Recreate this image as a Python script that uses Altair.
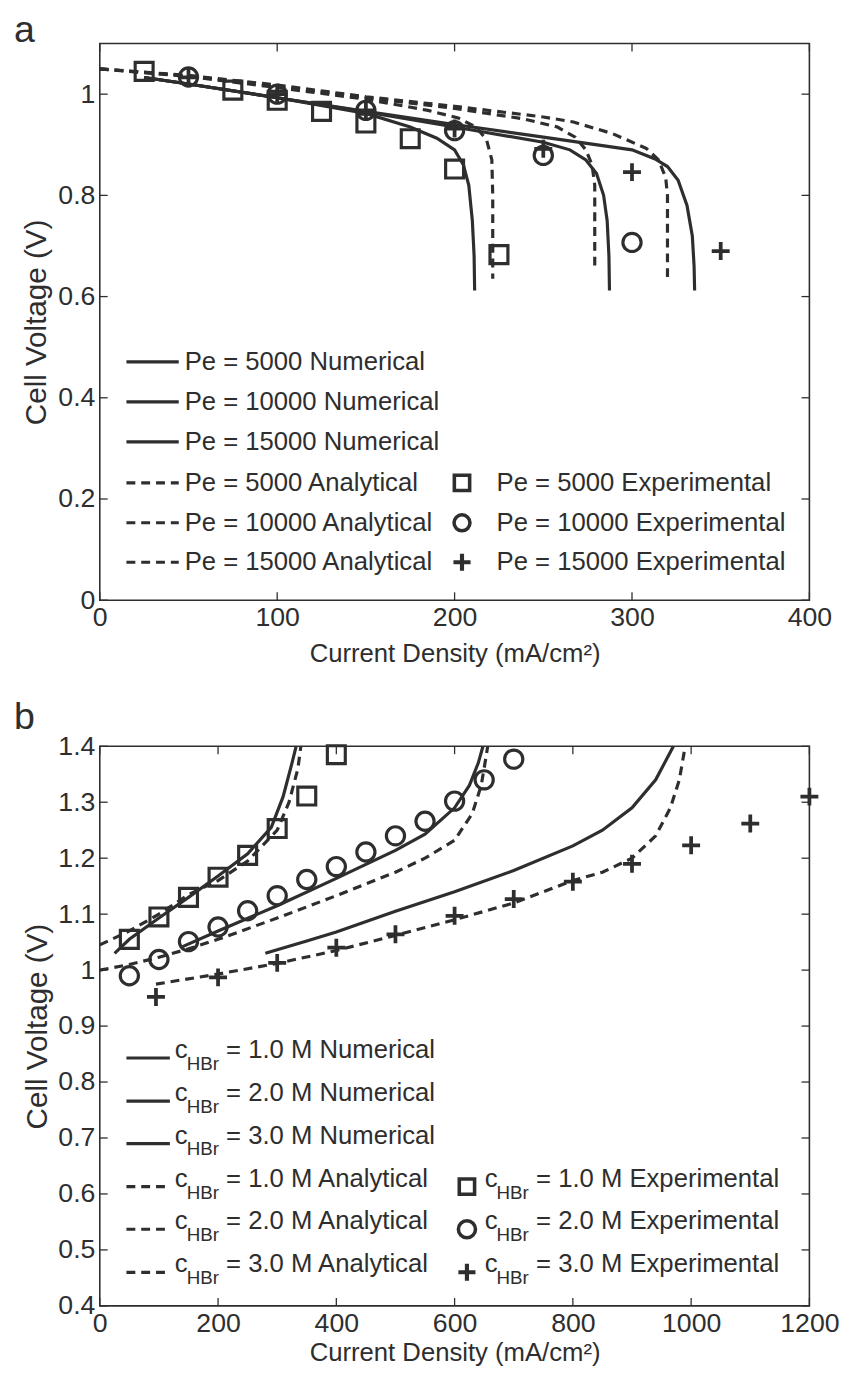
import altair as alt
import pandas as pd

FONT = "Liberation Sans, Arial, Helvetica, sans-serif"
INK = "#2e2e2e"

# ---------------- Panel a : Pe study ----------------
a_x_ticks = [0, 100, 200, 300, 400]
a_y_ticks = [0, 0.2, 0.4, 0.6, 0.8, 1.0]

a_num5000_x = [25, 50, 100, 150, 175, 190, 200, 205, 208, 210, 211, 211.3]
a_num5000_y = [1.033, 1.02, 0.993, 0.962, 0.935, 0.913, 0.89, 0.86, 0.82, 0.75, 0.68, 0.612]
a_num10000_x = [25, 50, 100, 150, 200, 250, 265, 274, 280, 284, 286, 287, 287.3]
a_num10000_y = [1.033, 1.02, 0.993, 0.965, 0.935, 0.905, 0.89, 0.87, 0.843, 0.8, 0.75, 0.68, 0.612]
a_num15000_x = [25, 50, 100, 150, 200, 250, 300, 313, 320, 326, 331, 334, 335, 335.3]
a_num15000_y = [1.033, 1.02, 0.993, 0.966, 0.94, 0.915, 0.89, 0.872, 0.857, 0.83, 0.78, 0.72, 0.66, 0.612]

a_ana5000_x = [0, 50, 100, 150, 185, 202, 212, 218, 221, 221.5, 221.5]
a_ana5000_y = [1.05, 1.035, 1.013, 0.99, 0.968, 0.953, 0.935, 0.91, 0.87, 0.8, 0.635]
a_ana10000_x = [0, 50, 100, 150, 200, 239, 258, 268, 274, 277.5, 279, 279]
a_ana10000_y = [1.05, 1.036, 1.016, 0.993, 0.972, 0.951, 0.935, 0.915, 0.89, 0.86, 0.82, 0.65]
a_ana15000_x = [0, 50, 100, 150, 200, 250, 267, 289, 308, 315, 319, 320, 320]
a_ana15000_y = [1.05, 1.037, 1.018, 0.995, 0.976, 0.955, 0.945, 0.922, 0.893, 0.87, 0.835, 0.8, 0.635]

a_exp5000_x = [25, 75, 100, 125, 150, 175, 200, 225]
a_exp5000_y = [1.045, 1.008, 0.988, 0.966, 0.943, 0.912, 0.852, 0.683]
a_exp10000_x = [50, 100, 150, 200, 250, 300]
a_exp10000_y = [1.034, 1.0, 0.968, 0.928, 0.879, 0.707]
a_exp15000_x = [50, 100, 150, 200, 250, 300, 350]
a_exp15000_y = [1.033, 1.0, 0.968, 0.932, 0.892, 0.846, 0.69]

a_line_labels = ["Pe = 5000 Numerical", "Pe = 10000 Numerical", "Pe = 15000 Numerical",
                 "Pe = 5000 Analytical", "Pe = 10000 Analytical", "Pe = 15000 Analytical"]
a_marker_labels = ["Pe = 5000 Experimental", "Pe = 10000 Experimental", "Pe = 15000 Experimental"]
a_legend_rows = [0.471, 0.392, 0.313, 0.232, 0.153, 0.075]

# ---------------- Panel b : HBr concentration study ----------------
b_x_ticks = [0, 200, 400, 600, 800, 1000, 1200]
b_y_ticks = [0.4, 0.5, 0.6, 0.7, 0.8, 0.9, 1.0, 1.1, 1.2, 1.3, 1.4]

b_num1_x = [25, 50, 100, 150, 200, 250, 290, 310, 325, 332]
b_num1_y = [1.03, 1.055, 1.093, 1.13, 1.168, 1.208, 1.255, 1.31, 1.37, 1.4]
b_num2_x = [140, 200, 300, 400, 500, 550, 600, 625, 640, 648]
b_num2_y = [1.042, 1.07, 1.115, 1.164, 1.214, 1.243, 1.29, 1.33, 1.37, 1.4]
b_num3_x = [280, 350, 400, 500, 600, 700, 800, 850, 900, 940, 970]
b_num3_y = [1.03, 1.052, 1.068, 1.105, 1.14, 1.178, 1.222, 1.25, 1.29, 1.34, 1.4]

b_ana1_x = [0, 50, 100, 150, 200, 250, 300, 320, 335, 340]
b_ana1_y = [1.045, 1.07, 1.1, 1.135, 1.16, 1.195, 1.25, 1.3, 1.36, 1.4]
b_ana2_x = [0, 50, 100, 150, 200, 300, 400, 500, 550, 600, 630, 645, 653, 656]
b_ana2_y = [1.0, 1.01, 1.023, 1.038, 1.055, 1.093, 1.133, 1.175, 1.2, 1.232, 1.28, 1.33, 1.38, 1.4]
b_ana3_x = [95, 200, 300, 400, 500, 600, 700, 800, 850, 900, 940, 965, 980, 990]
b_ana3_y = [0.975, 0.993, 1.012, 1.035, 1.062, 1.09, 1.12, 1.16, 1.175, 1.2, 1.24, 1.29, 1.34, 1.4]

b_exp1_x = [50, 100, 150, 200, 250, 300, 350, 400]
b_exp1_y = [1.055, 1.095, 1.13, 1.166, 1.205, 1.253, 1.311, 1.385]
b_exp2_x = [50, 100, 150, 200, 250, 300, 350, 400, 450, 500, 550, 600, 650, 700]
b_exp2_y = [0.99, 1.019, 1.051, 1.077, 1.106, 1.133, 1.162, 1.185, 1.211, 1.24, 1.266, 1.302, 1.34, 1.377]
b_exp3_x = [95, 200, 300, 400, 500, 600, 700, 800, 900, 1000, 1100, 1200]
b_exp3_y = [0.952, 0.987, 1.013, 1.04, 1.064, 1.097, 1.127, 1.158, 1.19, 1.223, 1.262, 1.31]

b_conc = ["1.0", "2.0", "3.0"]
b_line_suffix = ["M Numerical", "M Numerical", "M Numerical", "M Analytical", "M Analytical", "M Analytical"]
b_marker_suffix = "M Experimental"
b_legend_rows = [0.843, 0.766, 0.690, 0.613, 0.537, 0.460]

LEG_FS = 26


def lines_df(series):
    rows = []
    for name, xs, ys in series:
        for i, (x, y) in enumerate(zip(xs, ys)):
            rows.append({"series": name, "i": i, "x": x, "y": y})
    return pd.DataFrame(rows)


def pts_df(xs, ys):
    return pd.DataFrame({"x": xs, "y": ys})


PLUS = "M-1,0H1M0,-1V1"


def panel(W, H, xdom, ydom, xticks, yticks, solid, dashed, squares, circles, pluses,
          legend_lines, legend_marks, letter, ytitle_x, xtitle_y, letter_y):
    xs = alt.Scale(domain=xdom, nice=False, zero=False)
    ys = alt.Scale(domain=ydom, nice=False, zero=False)
    X = alt.X("x:Q", scale=xs, title="Current Density (mA/cm²)",
              axis=alt.Axis(values=xticks, format="d", labelFlush=False, labelOverlap=False,
                            titleY=xtitle_y, titleBaseline="middle", titleFontSize=26))
    Y = alt.Y("y:Q", scale=ys, title="Cell Voltage (V)",
              axis=alt.Axis(values=yticks, format=".1~f", labelFlush=False, labelOverlap=False,
                            titleX=ytitle_x, titleY=H / 2, titleBaseline="middle",
                            titleAngle=270, titleFontSize=30))
    Xn = alt.X("x:Q", scale=xs, title="Current Density (mA/cm²)")
    Yn = alt.Y("y:Q", scale=ys, title="Cell Voltage (V)")

    base_line = dict(color=INK, strokeWidth=3.2)
    l_solid = alt.Chart(solid).mark_line(**base_line).encode(
        x=X, y=Y, detail="series:N", order="i:Q")
    l_dash = alt.Chart(dashed).mark_line(strokeDash=[9, 6], **base_line).encode(
        x=Xn, y=Yn, detail="series:N", order="i:Q")
    m_sq = alt.Chart(squares).mark_point(shape="square", size=330, strokeWidth=3.2,
                                         color=INK, opacity=1).encode(x=Xn, y=Yn)
    m_ci = alt.Chart(circles).mark_point(shape="circle", size=340, strokeWidth=3.2,
                                         color=INK, opacity=1).encode(x=Xn, y=Yn)
    m_pl = alt.Chart(pluses).mark_point(shape=PLUS, size=330, strokeWidth=3.8,
                                        color=INK, opacity=1).encode(x=Xn, y=Yn)

    # inward ticks (box style)
    tx = pd.DataFrame({"x": xticks})
    ty = pd.DataFrame({"y": yticks})
    tk = dict(color=INK, strokeWidth=1.3)
    t_b = alt.Chart(tx).mark_rule(**tk).encode(x=Xn, y=alt.value(H), y2=alt.value(H - 8))
    t_t = alt.Chart(tx).mark_rule(**tk).encode(x=Xn, y=alt.value(0), y2=alt.value(8))
    t_l = alt.Chart(ty).mark_rule(**tk).encode(y=Yn, x=alt.value(0), x2=alt.value(8))
    t_r = alt.Chart(ty).mark_rule(**tk).encode(y=Yn, x=alt.value(W - 8), x2=alt.value(W))

    lay = [l_solid, l_dash, m_sq, m_ci, m_pl, t_b, t_t, t_l, t_r]
    lay += legend_lines(Yn) + legend_marks(Yn)
    let = alt.Chart(pd.DataFrame({"t": [letter]})).mark_text(
        align="left", baseline="alphabetic", font=FONT, fontSize=38, color=INK
    ).encode(x=alt.value(-87), y=alt.value(letter_y), text="t:N")
    lay.append(let)
    return alt.layer(*lay).properties(width=W, height=H)


# ---- panel a legend ----
WA, HA = 719, 564


def a_leg_lines(Yn):
    d_solid = pd.DataFrame({"y": a_legend_rows[:3], "label": a_line_labels[:3]})
    d_dash = pd.DataFrame({"y": a_legend_rows[3:], "label": a_line_labels[3:]})
    r1 = alt.Chart(d_solid).mark_rule(color=INK, strokeWidth=3.2).encode(
        x=alt.value(27), x2=alt.value(80), y=Yn)
    r2 = alt.Chart(d_dash).mark_rule(color=INK, strokeWidth=3.2, strokeDash=[9, 6]).encode(
        x=alt.value(27), x2=alt.value(80), y=Yn)
    dall = pd.DataFrame({"y": a_legend_rows, "label": a_line_labels})
    t = alt.Chart(dall).mark_text(align="left", baseline="middle", font=FONT, fontSize=LEG_FS,
                                  color=INK).encode(x=alt.value(86), y=Yn, text="label:N")
    return [r1, r2, t]


def a_leg_marks(Yn):
    rows = a_legend_rows[3:]
    out = []
    for shp, r, sz, sw in [("square", rows[0], 240, 3.6), ("circle", rows[1], 260, 3.6),
                           (PLUS, rows[2], 300, 4.2)]:
        out.append(alt.Chart(pd.DataFrame({"y": [r]})).mark_point(
            shape=shp, size=sz, strokeWidth=sw, color=INK, opacity=1).encode(
            x=alt.value(367), y=Yn))
    dm = pd.DataFrame({"y": rows, "label": a_marker_labels})
    out.append(alt.Chart(dm).mark_text(align="left", baseline="middle", font=FONT, fontSize=LEG_FS,
                                       color=INK).encode(x=alt.value(402), y=Yn, text="label:N"))
    return out


# ---- panel b legend ----
WB, HB = 719, 567


def sub_text(df, Yn, x0):
    c = alt.Chart(df).mark_text(align="left", baseline="middle", font=FONT, fontSize=LEG_FS,
                                color=INK, dy=-8).encode(x=alt.value(x0), y=Yn, text="c:N")
    s = alt.Chart(df).mark_text(align="left", baseline="middle", font=FONT, fontSize=19,
                                color=INK, dy=6).encode(x=alt.value(x0 + 12), y=Yn, text="s:N")
    r = alt.Chart(df).mark_text(align="left", baseline="middle", font=FONT, fontSize=LEG_FS,
                                color=INK, dy=-8).encode(x=alt.value(x0 + 52), y=Yn, text="rest:N")
    return [c, s, r]


def b_leg_lines(Yn):
    d_solid = pd.DataFrame({"y": b_legend_rows[:3]})
    d_dash = pd.DataFrame({"y": b_legend_rows[3:]})
    r1 = alt.Chart(d_solid).mark_rule(color=INK, strokeWidth=3.2).encode(
        x=alt.value(27), x2=alt.value(71), y=Yn)
    r2 = alt.Chart(d_dash).mark_rule(color=INK, strokeWidth=3.2, strokeDash=[9, 6]).encode(
        x=alt.value(27), x2=alt.value(71), y=Yn)
    df = pd.DataFrame({
        "y": b_legend_rows,
        "c": ["c"] * 6,
        "s": ["HBr"] * 6,
        "rest": ["= " + b_conc[k % 3] + " " + b_line_suffix[k] for k in range(6)],
    })
    return [r1, r2] + sub_text(df, Yn, 76)


def b_leg_marks(Yn):
    rows = b_legend_rows[3:]
    out = []
    for shp, r, sz, sw in [("square", rows[0], 240, 3.6), ("circle", rows[1], 300, 3.6),
                           (PLUS, rows[2], 300, 4.2)]:
        out.append(alt.Chart(pd.DataFrame({"y": [r]})).mark_point(
            shape=shp, size=sz, strokeWidth=sw, color=INK, opacity=1).encode(
            x=alt.value(372), y=Yn))
    df = pd.DataFrame({
        "y": rows,
        "c": ["c"] * 3,
        "s": ["HBr"] * 3,
        "rest": ["= " + b_conc[k] + " " + b_marker_suffix for k in range(3)],
    })
    return out + sub_text(df, Yn, 390)


a_solid = lines_df([("5000", a_num5000_x, a_num5000_y), ("10000", a_num10000_x, a_num10000_y),
                    ("15000", a_num15000_x, a_num15000_y)])
a_dash = lines_df([("5000", a_ana5000_x, a_ana5000_y), ("10000", a_ana10000_x, a_ana10000_y),
                   ("15000", a_ana15000_x, a_ana15000_y)])
b_solid = lines_df([("1", b_num1_x, b_num1_y), ("2", b_num2_x, b_num2_y), ("3", b_num3_x, b_num3_y)])
b_dash = lines_df([("1", b_ana1_x, b_ana1_y), ("2", b_ana2_x, b_ana2_y), ("3", b_ana3_x, b_ana3_y)])

pa = panel(WA, HA, [0, 400], [0, 1.1], a_x_ticks, a_y_ticks, a_solid, a_dash,
           pts_df(a_exp5000_x, a_exp5000_y), pts_df(a_exp10000_x, a_exp10000_y),
           pts_df(a_exp15000_x, a_exp15000_y), a_leg_lines, a_leg_marks, "a",
           -64, 54, -2)
pb = panel(WB, HB, [0, 1200], [0.4, 1.4], b_x_ticks, b_y_ticks, b_solid, b_dash,
           pts_df(b_exp1_x, b_exp1_y), pts_df(b_exp2_x, b_exp2_y),
           pts_df(b_exp3_x, b_exp3_y), b_leg_lines, b_leg_marks, "b",
           -63, 47, -17)

chart = alt.vconcat(pa, pb, spacing=32).properties(
    padding={"left": 5, "top": -6, "right": 0, "bottom": 0},
    background="white",
).configure_view(stroke=INK, strokeWidth=1.6).configure_axis(
    ticks=False, domain=False, grid=False,
    labelFont=FONT, labelFontSize=27, labelColor=INK, labelPadding=5,
    titleFont=FONT, titleFontSize=26, titleColor=INK, titleFontWeight="normal"
)

chart.save("out.html", embed_options={"renderer": "svg", "actions": False})
